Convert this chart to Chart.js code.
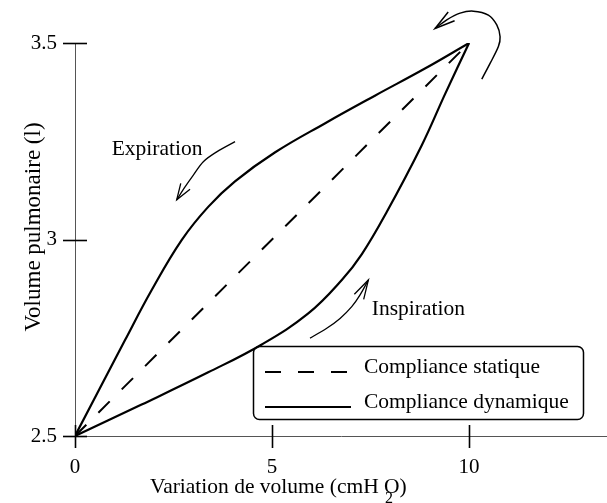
<!DOCTYPE html>
<html>
<head>
<meta charset="utf-8">
<script src="https://cdn.jsdelivr.net/npm/chart.js@4/dist/chart.umd.min.js"></script>
<style>
html,body{margin:0;padding:0;background:#fff;}
#wrap{width:607px;height:503px;position:relative;}
</style>
</head>
<body>
<div id="wrap"><canvas id="c" width="607" height="503"></canvas></div>
<script>
// ---- Data ----
const xTicks = [0, 5, 10];
const yTicks = [2.5, 3, 3.5];

const statiqueX = [0, 10];
const statiqueY = [2.5, 3.5];

// Inspiration branch (lower curve)
const inspirationX = [0, 1.69, 3.38, 4.74, 5.92, 6.77, 7.28, 7.91, 8.80, 9.39, 10];
const inspirationY = [2.5, 2.580, 2.662, 2.733, 2.812, 2.897, 2.963, 3.070, 3.240, 3.370, 3.5];

// Expiration branch (upper curve)
const expirationX = [0, 1.27, 1.95, 2.71, 3.38, 4.06, 5.08, 6.35, 7.61, 8.88, 10];
const expirationY = [2.5, 2.744, 2.872, 2.999, 3.083, 3.148, 3.222, 3.296, 3.366, 3.435, 3.5];

// Annotation arrows (data coordinates)
const expArrowX = [4.061, 3.596, 3.256, 3.003, 2.792, 2.581];
const expArrowY = [3.249, 3.223, 3.198, 3.164, 3.134, 3.101];
const inspArrowX = [5.964, 6.388, 6.726, 7.023, 7.234, 7.445];
const inspArrowY = [2.749, 2.774, 2.799, 2.829, 2.859, 2.897];
const loopArrowX = [10.322, 10.533, 10.744, 10.787, 10.703, 10.490, 10.109, 9.772, 9.434, 9.137];
const loopArrowY = [3.408, 3.448, 3.491, 3.516, 3.546, 3.571, 3.581, 3.576, 3.559, 3.537];

const labelTexts = ['Expiration', 'Inspiration'];
const labelX = [0.93, 7.53];
const labelY = [3.215, 2.808];

const xTitle = 'Variation de volume (cmH ';
const xTitleEnd = 'O)';
const xTitleSub = '2';
const yTitle = 'Volume pulmonaire (l)';

const FONT = '"Liberation Serif", "Times New Roman", Times, serif';
const pts = (xs, ys) => xs.map((x, i) => ({x: x, y: ys[i]}));

function drawSpline(ctx, p) {
  ctx.beginPath();
  ctx.moveTo(p[0].x, p[0].y);
  for (let i = 0; i < p.length - 1; i++) {
    const p0 = p[i - 1] || p[i], p1 = p[i], p2 = p[i + 1], p3 = p[i + 2] || p[i + 1];
    const c1x = p1.x + (p2.x - p0.x) / 6, c1y = p1.y + (p2.y - p0.y) / 6;
    const c2x = p2.x - (p3.x - p1.x) / 6, c2y = p2.y - (p3.y - p1.y) / 6;
    ctx.bezierCurveTo(c1x, c1y, c2x, c2y, p2.x, p2.y);
  }
  ctx.stroke();
}
function drawHead(ctx, from, tip, len, ang) {
  const a = Math.atan2(from.y - tip.y, from.x - tip.x);
  ctx.beginPath();
  ctx.moveTo(tip.x + len * Math.cos(a + ang), tip.y + len * Math.sin(a + ang));
  ctx.lineTo(tip.x, tip.y);
  ctx.lineTo(tip.x + len * Math.cos(a - ang), tip.y + len * Math.sin(a - ang));
  ctx.stroke();
}

const decor = {
  id: 'decor',
  afterDraw(chart) {
    const ctx = chart.ctx;
    const sx = chart.scales.x, sy = chart.scales.y;
    const X = v => sx.getPixelForValue(v), Y = v => sy.getPixelForValue(v);
    ctx.save();
    ctx.strokeStyle = '#000';
    ctx.fillStyle = '#000';
    ctx.lineCap = 'butt';

    // tick marks crossing the axes
    ctx.lineWidth = 1.6;
    xTicks.forEach(v => {
      const px = Math.round(X(v)) + 0.5;
      ctx.beginPath(); ctx.moveTo(px, sy.bottom - 11); ctx.lineTo(px, sy.bottom + 12); ctx.stroke();
    });
    yTicks.forEach(v => {
      const py = Math.round(Y(v)) + 0.5;
      ctx.beginPath(); ctx.moveTo(sx.left - 12, py); ctx.lineTo(sx.left + 12, py); ctx.stroke();
    });

    // annotation arrows
    const arrows = [[expArrowX, expArrowY, 1.3, 17, 0.33], [inspArrowX, inspArrowY, 1.3, 20, 0.27], [loopArrowX, loopArrowY, 1.5, 21, 0.26]];
    arrows.forEach(([ax, ay, lw, hl, ha]) => {
      const p = ax.map((v, i) => ({x: X(v), y: Y(ay[i])}));
      ctx.lineWidth = lw;
      drawSpline(ctx, p);
      drawHead(ctx, p[p.length - 2], p[p.length - 1], hl, ha);
    });

    // annotation texts
    ctx.font = '21.5px ' + FONT;
    ctx.textAlign = 'left';
    ctx.textBaseline = 'alphabetic';
    labelTexts.forEach((t, i) => ctx.fillText(t, X(labelX[i]), Y(labelY[i])));

    // legend box
    const lx = 253, ly = 346, lw = 330, lh = 73;
    ctx.lineWidth = 1.5;
    ctx.beginPath();
    ctx.roundRect(lx + 0.5, ly + 0.5, lw, lh, 6);
    ctx.stroke();
    const ds = chart.data.datasets;
    ctx.lineWidth = 2;
    ctx.setLineDash([16, 17]);
    ctx.beginPath(); ctx.moveTo(265, 372); ctx.lineTo(350, 372); ctx.stroke();
    ctx.setLineDash([]);
    ctx.beginPath(); ctx.moveTo(265, 407); ctx.lineTo(351, 407); ctx.stroke();
    ctx.font = '21.5px ' + FONT;
    ctx.fillText(ds[0].label, 364, 373);
    ctx.fillText(ds[1].label, 364, 408);

    // x title with the misplaced subscript
    ctx.font = '21.5px ' + FONT;
    const tx = 150, ty = 493;
    ctx.fillText(xTitle, tx, ty);
    const w = ctx.measureText(xTitle).width;
    ctx.fillText(xTitleEnd, tx + w, ty);
    ctx.font = '16px ' + FONT;
    ctx.fillText(xTitleSub, tx + w + 1, 503);

    // y title
    ctx.font = '23px ' + FONT;
    ctx.translate(40, 227);
    ctx.rotate(-Math.PI / 2);
    ctx.textAlign = 'center';
    ctx.fillText(yTitle, 0, 0);
    ctx.restore();
  }
};

new Chart(document.getElementById('c'), {
  type: 'line',
  data: {
    datasets: [
      {label: 'Compliance statique', data: pts(statiqueX, statiqueY), borderColor: '#000', borderWidth: 2, borderDash: [16, 17], pointRadius: 0, fill: false},
      {label: 'Compliance dynamique', data: pts(inspirationX, inspirationY), borderColor: '#000', borderWidth: 2.2, pointRadius: 0, fill: false, tension: 0.4},
      {label: 'Compliance dynamique (expiration)', data: pts(expirationX, expirationY), borderColor: '#000', borderWidth: 2.2, pointRadius: 0, fill: false, tension: 0.4}
    ]
  },
  options: {
    responsive: false,
    animation: false,
    events: [],
    layout: {padding: {top: 43, left: 0, right: 0, bottom: 0}},
    plugins: {legend: {display: false}, tooltip: {enabled: false}, title: {display: false}},
    scales: {
      x: {
        type: 'linear', min: 0, max: 13.5,
        afterBuildTicks: s => { s.ticks = xTicks.map(v => ({value: v})); },
        afterFit: s => { s.height = 67; },
        grid: {display: false, drawTicks: false},
        border: {display: true, color: '#555', width: 1},
        ticks: {font: {family: FONT, size: 21}, color: '#000', padding: 19, maxRotation: 0, autoSkip: false,
                callback: v => String(v)}
      },
      y: {
        type: 'linear', min: 2.5, max: 3.5,
        afterBuildTicks: s => { s.ticks = yTicks.map(v => ({value: v})); },
        afterFit: s => { s.width = 75; },
        grid: {display: false, drawTicks: false},
        border: {display: true, color: '#555', width: 1},
        ticks: {font: {family: FONT, size: 21}, color: '#000', padding: 18, autoSkip: false,
                callback: v => String(v)}
      }
    }
  },
  plugins: [decor]
});
</script>
</body>
</html>
